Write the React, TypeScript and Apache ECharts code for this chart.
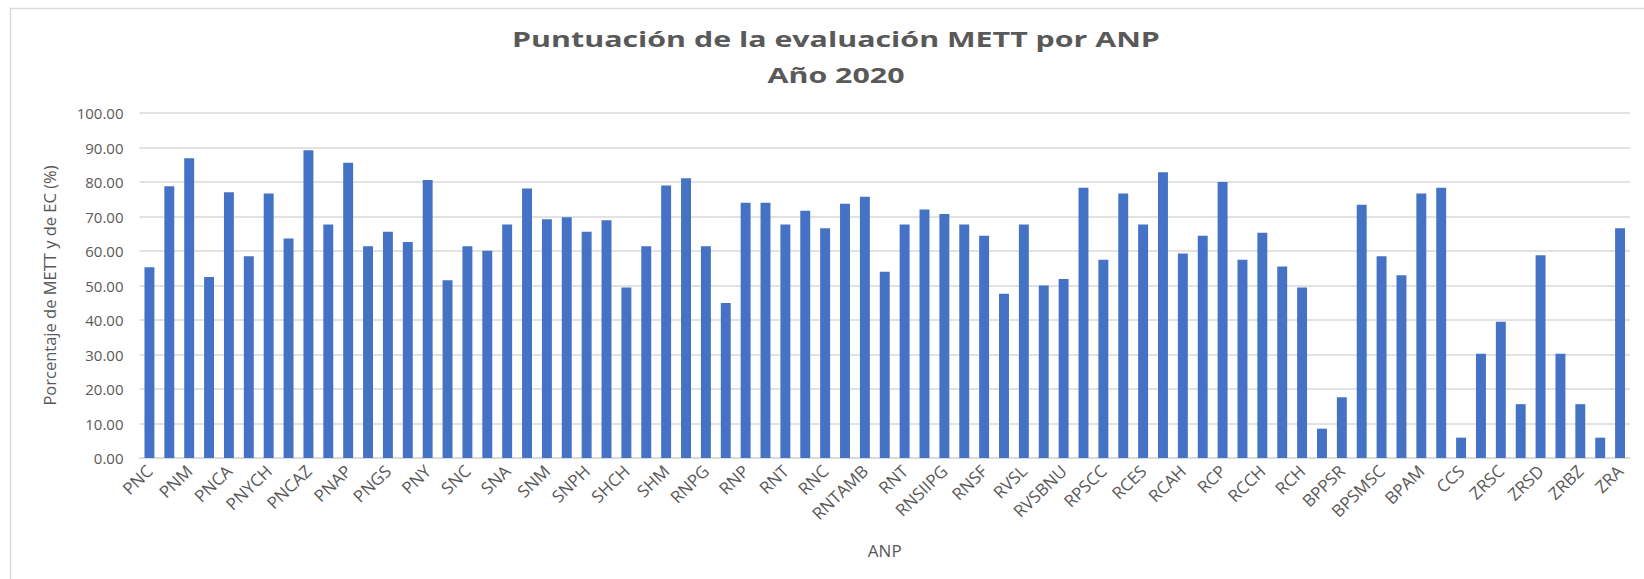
import React, { useEffect, useRef } from "react";
import * as echarts from "echarts";

const titleLine1 = "Puntuación de la evaluación METT por ANP";
const titleLine2 = "Año 2020";
const yAxisName = "Porcentaje de METT y de EC (%)";
const xAxisName = "ANP";

const categories = [
  "PNC", "PNTM", "PNM", "PNH", "PNCA", "PNRA", "PNYCH", "PNBS", "PNCAZ", "PNO",
  "PNAP", "PNIM", "PNGS", "PNSD", "PNY", "SNH", "SNC", "SNLM", "SNA", "SNMT",
  "SNM", "SNTN", "SNPH", "SHPA", "SHCH", "SHBP", "SHM", "RNJ", "RNPG", "RNL",
  "RNP", "RNSAB", "RNT", "RNPS", "RNC", "RNAM", "RNTAMB", "RNM", "RNT", "RNPU",
  "RNSIIPG", "RNDM", "RNSF", "RVSPV", "RVSL", "RVSLC", "RVSBNU", "RPNYC", "RPSCC", "RCY",
  "RCES", "RCA", "RCAH", "RCM", "RCP", "RCT", "RCCH", "RCAP", "RCH", "BPABCNI",
  "BPPSR", "BPPP", "BPSMSC", "BPPB", "BPAM", "CCEA", "CCS", "ZRCH", "ZRSC", "ZRLA",
  "ZRSD", "ZRR", "ZRBZ", "ZRLH", "ZRA",
];

const scores = [
  55.3, 78.8, 86.9, 52.5, 77.0, 58.5, 76.7, 63.6, 89.2, 67.7,
  85.6, 61.4, 65.6, 62.6, 80.6, 51.5, 61.4, 60.1, 67.7, 78.1,
  69.2, 69.8, 65.6, 68.9, 49.4, 61.4, 79.0, 81.1, 61.4, 44.9,
  74.0, 74.0, 67.7, 71.7, 66.6, 73.7, 75.7, 54.0, 67.7, 72.0,
  70.7, 67.7, 64.4, 47.6, 67.7, 50.0, 51.9, 78.3, 57.5, 76.7,
  67.7, 82.8, 59.3, 64.4, 80.0, 57.5, 65.3, 55.5, 49.4, 8.5,
  17.6, 73.4, 58.5, 53.0, 76.7, 78.3, 5.9, 30.2, 39.5, 15.6,
  58.8, 30.2, 15.6, 5.9, 66.6,
];

const FONT = "'Open Sans', 'Noto Sans', sans-serif";
const TEXT = "#595959";
const GRID = "#d9d9d9";

export default function App() {
  const ref = useRef<HTMLDivElement>(null);

  useEffect(() => {
    if (!ref.current) return;
    const chart = echarts.init(ref.current, undefined, { renderer: "svg" });
    chart.setOption({
      animation: false,
      backgroundColor: "#ffffff",
      textStyle: { fontFamily: FONT },
      graphic: [
        {
          type: "rect",
          silent: true,
          shape: { x: 10.5, y: 8.5, width: 1700, height: 700 },
          style: { fill: "none", stroke: GRID, lineWidth: 1.5 },
        },
        {
          type: "text",
          x: 836,
          y: 39,
          scaleX: 1.38,
          style: {
            text: titleLine1,
            fontFamily: FONT,
            fontWeight: "bold",
            fontSize: 22,
            fill: TEXT,
            align: "center",
            verticalAlign: "middle",
          },
        },
        {
          type: "text",
          x: 836,
          y: 75,
          scaleX: 1.38,
          style: {
            text: titleLine2,
            fontFamily: FONT,
            fontWeight: "bold",
            fontSize: 22,
            fill: TEXT,
            align: "center",
            verticalAlign: "middle",
          },
        },
      ],
      grid: { left: 139.5, right: 14, top: 113, bottom: 121, containLabel: false },
      xAxis: {
        type: "category",
        data: categories,
        name: xAxisName,
        nameLocation: "middle",
        nameGap: 84,
        nameTextStyle: { color: TEXT, fontSize: 17, fontFamily: FONT },
        axisLine: { lineStyle: { color: GRID, width: 1.5 } },
        axisTick: { show: false },
        axisLabel: {
          interval: 1,
          rotate: 44,
          margin: 10,
          color: TEXT,
          fontSize: 17,
          fontFamily: FONT,
        },
      },
      yAxis: {
        type: "value",
        min: 0,
        max: 100,
        interval: 10,
        name: yAxisName,
        nameLocation: "middle",
        nameGap: 82,
        nameTextStyle: { color: TEXT, fontSize: 16.5, fontFamily: FONT },
        axisLine: { show: false },
        axisTick: { show: false },
        splitLine: { lineStyle: { color: GRID, width: 1.5 } },
        axisLabel: {
          color: TEXT,
          fontSize: 15,
          fontFamily: FONT,
          margin: 16,
          formatter: (v: number) => v.toFixed(2),
        },
      },
      series: [
        {
          type: "bar",
          data: scores,
          barWidth: "50%",
          itemStyle: { color: "#4472C4" },
        },
      ],
    });
    return () => chart.dispose();
  }, []);

  return (
    <div
      ref={ref}
      style={{ position: "absolute", left: 0, top: 0, width: 1644, height: 579 }}
    />
  );
}
